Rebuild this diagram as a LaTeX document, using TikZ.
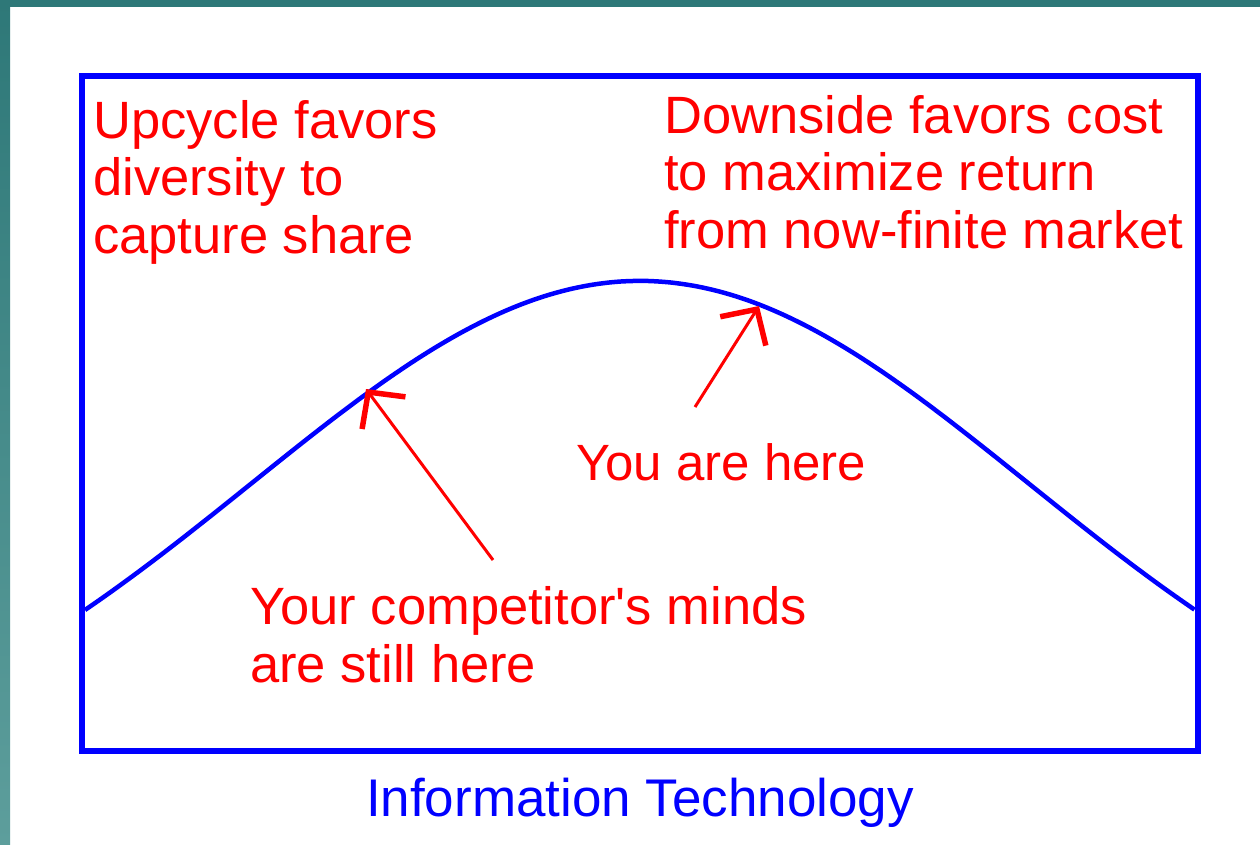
\documentclass[tikz,border=0pt]{standalone}
\usepackage{fontspec}
\setmainfont{Liberation Sans}
\usetikzlibrary{positioning, arrows.meta}
\definecolor{tealdark}{RGB}{46,120,120}
\definecolor{teallight}{RGB}{93,158,156}

\begin{document}
\begin{tikzpicture}[x=1pt, y=-1pt,
    >={Straight Barb[length=26pt, width=54pt, line width=5.5pt]},
    remark/.style={text=red, font=\fontsize{52.5}{57.5}\selectfont, inner sep=0pt, anchor=base west, align=left},
    pointer/.style={->, red, line width=3pt},
    frame/.style={draw=blue, line width=6pt}]
			\useasboundingbox (0,0) rectangle (1260,844);
			% Background
			\fill[white] (0,0) rectangle (1260,844);
			\fill[tealdark] (0,0) rectangle (1260,7);
			\shade[top color=tealdark, bottom color=teallight] (0,0) rectangle (10,844);

			% Curve and frame
			\draw[blue, line width=4.5pt] plot[domain=-1:1, samples=90, smooth]
				({640+555*\x}, {610-329*(exp(-\x*\x/0.98)-0.3604)/0.6396});
			\draw[frame] (82,76) rectangle (1198,751);

			% Nodes (placed at the baseline of their last line)
			\node (Upcycle) [remark] at (93,253) {Upcycle favors\\diversity to\\capture share};
			\node (Downside) [remark] at (664,248) {Downside favors cost\\to maximize return\\from now-finite market};
			\node (YouHere) [remark, font=\fontsize{51}{57.5}\selectfont] at (576,480) {You are here};
			\node (Competitor) [remark] at (250,682) {Your competitor\textquotesingle s minds\\are still here};
			\node (Caption) [text=blue, font=\fontsize{53}{60}\selectfont, inner sep=0pt, anchor=base] at (640,816) {Information Technology};

			\coordinate (LeftTail) at (493,560);
			\coordinate (LeftTip) at (366,389);
			\coordinate (RightTail) at (695,407);
			\coordinate (RightTip) at (759,306);

			% Arrows
			\draw[pointer] (LeftTail) -- (LeftTip);
			\draw[pointer] (RightTail) -- (RightTip);
		\end{tikzpicture}
\end{document}
